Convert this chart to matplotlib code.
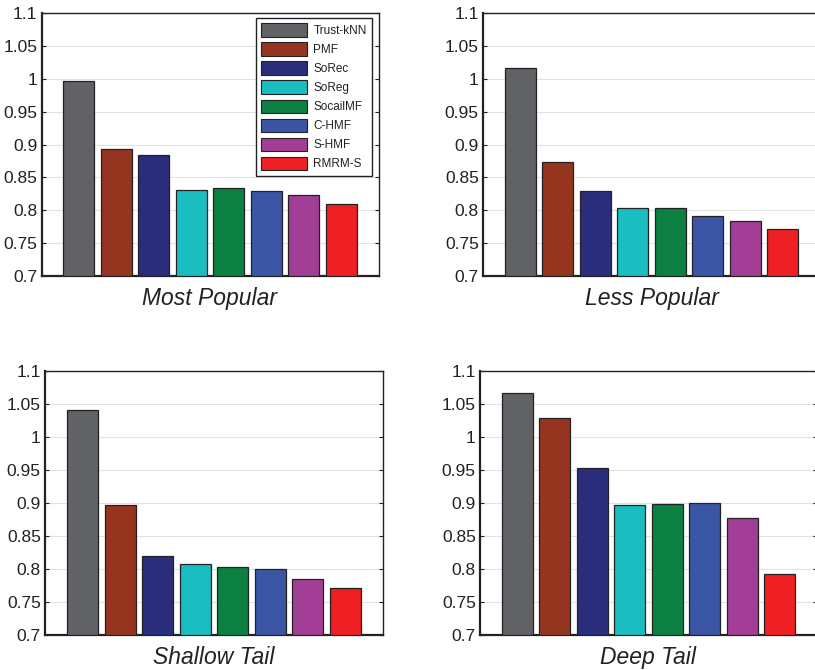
import numpy as np
import matplotlib
matplotlib.use("Agg")
import matplotlib.pyplot as plt
from matplotlib.patches import Patch

plt.rcParams['font.family'] = ['Liberation Sans', 'DejaVu Sans']

methods = ["Trust-kNN", "PMF", "SoRec", "SoReg", "SocailMF", "C-HMF", "S-HMF", "RMRM-S"]
colors = ["#616266", "#96351F", "#2A2D7C", "#1ABDC0", "#0B8040", "#3A55A4", "#A23E95", "#EE2024"]

most_popular = [0.997, 0.894, 0.885, 0.831, 0.834, 0.830, 0.823, 0.809]
less_popular = [1.017, 0.874, 0.830, 0.804, 0.804, 0.792, 0.783, 0.771]
shallow_tail = [1.040, 0.896, 0.819, 0.807, 0.803, 0.800, 0.784, 0.771]
deep_tail = [1.066, 1.029, 0.952, 0.896, 0.898, 0.900, 0.877, 0.792]

panels = ["Most Popular", "Less Popular", "Shallow Tail", "Deep Tail"]
values = [most_popular, less_popular, shallow_tail, deep_tail]

yticks = [0.7, 0.75, 0.8, 0.85, 0.9, 0.95, 1.0, 1.05, 1.1]
ytick_labels = ["0.7", "0.75", "0.8", "0.85", "0.9", "0.95", "1", "1.05", "1.1"]

W, H = 815, 670
fig = plt.figure(figsize=(W / 100, H / 100), dpi=100)

# axes boxes in pixels: left, top, right, bottom
boxes = [(41.5, 13.3, 378.5, 276),
         (483, 13.3, 820, 276),
         (45, 370.7, 383, 635),
         (480, 370.7, 817, 635)]

x = np.arange(1, 9)
for i in range(4):
    l, t, r, b = boxes[i]
    ax = fig.add_axes([l / W, 1 - b / H, (r - l) / W, (b - t) / H])
    ax.bar(x, np.array(values[i]) - 0.7, bottom=0.7, width=0.83, color=colors,
           edgecolor="#222222", linewidth=0.9, zorder=3)
    ax.set_xlim(0, 9)
    ax.set_ylim(0.7, 1.1)
    ax.set_xticks([])
    ax.set_yticks(yticks)
    ax.set_yticklabels(ytick_labels)
    ax.grid(axis="y", color="#e2e2e2", linewidth=0.8, zorder=0)
    ax.tick_params(axis="y", direction="in", length=3, right=True, labelsize=12.5,
                   pad=3, colors="#222222")
    for s in ["left", "bottom"]:
        ax.spines[s].set_linewidth(1.6)
    for s in ["top", "right"]:
        ax.spines[s].set_linewidth(1.0)
    for s in ax.spines.values():
        s.set_color("#222222")
    ax.set_xlabel(panels[i], fontsize=16.5, style="italic", labelpad=8, color="#222222")

    if i == 0:
        handles = [Patch(facecolor=c, edgecolor="#222222", linewidth=0.8) for c in colors]
        leg = ax.legend(handles, methods, loc="upper right",
                        bbox_to_anchor=((372 - l) / (r - l), (b - 18) / (b - t)),
                        fontsize=8.5, handlelength=3.9, handleheight=1.4,
                        labelspacing=0.45, handletextpad=0.5, borderpad=0.45,
                        borderaxespad=0, fancybox=False, framealpha=1)
        leg.get_frame().set_edgecolor("#222222")
        leg.get_frame().set_linewidth(1.0)
        for txt in leg.get_texts():
            txt.set_color("#222222")

plt.savefig("out.png", dpi=100)
